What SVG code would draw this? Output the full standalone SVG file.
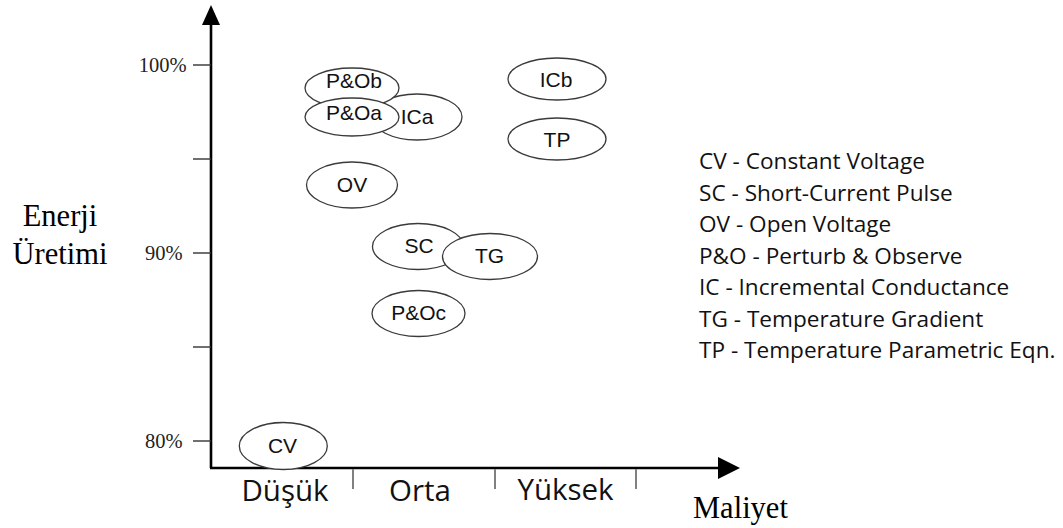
<svg xmlns="http://www.w3.org/2000/svg" width="1063" height="528" viewBox="0 0 1063 528">
  <style>
    .node ellipse { fill: #ffffff; stroke: #3a3a3a; stroke-width: 1.3; }
    .node text { font-family: "Liberation Sans", Arial, sans-serif; font-size: 21px; fill: #111; text-anchor: middle; }
    .axis { stroke: #000; stroke-width: 2.6; fill: none; }
    .ytick { stroke: #333; stroke-width: 1.4; }
    .xtick { stroke: #808080; stroke-width: 2; }
    .pct { font-family: "Liberation Serif", "Times New Roman", serif; font-size: 20.5px; fill: #222; text-anchor: end; }
    .title { font-family: "Liberation Serif", "Times New Roman", serif; font-size: 30.5px; fill: #000; }
    .cat { font-family: "Open Sans", Lato, sans-serif; font-size: 29.5px; fill: #111; text-anchor: middle; }
    .legend { font-family: "Open Sans", Lato, sans-serif; font-size: 22.6px; fill: #111; }
  </style>

  <!-- axes -->
  <g id="axes">
    <line class="axis" x1="211" y1="468" x2="211" y2="22"/>
    <polygon points="211,5 202,25 220,25" fill="#000"/>
    <line class="axis" x1="210" y1="468" x2="722" y2="468"/>
    <polygon points="740,468 718,457 718,479" fill="#000"/>
    <line class="ytick" x1="193" y1="65" x2="211" y2="65"/>
    <line class="ytick" x1="193" y1="159" x2="211" y2="159"/>
    <line class="ytick" x1="193" y1="253" x2="211" y2="253"/>
    <line class="ytick" x1="193" y1="347" x2="211" y2="347"/>
    <line class="ytick" x1="193" y1="441" x2="211" y2="441"/>
    <line class="xtick" x1="353" y1="469" x2="353" y2="489"/>
    <line class="xtick" x1="495" y1="469" x2="495" y2="489"/>
    <line class="xtick" x1="636" y1="469" x2="636" y2="489"/>
    <text class="pct" x="186.5" y="72">100%</text>
    <text class="pct" x="182.5" y="260">90%</text>
    <text class="pct" x="182.5" y="448">80%</text>
    <text class="title" x="60" y="226" text-anchor="middle">Enerji</text>
    <text class="title" x="60" y="264" text-anchor="middle">Üretimi</text>
    <text class="title" x="693" y="518">Maliyet</text>
    <text class="cat" x="285" y="501">Düşük</text>
    <text class="cat" x="420" y="501">Orta</text>
    <text class="cat" x="565.5" y="500">Yüksek</text>
  </g>

  <!-- method bubbles -->
  <g id="ICa" class="node">
    <ellipse cx="417" cy="117" rx="45" ry="23"/>
    <text x="417" y="124">ICa</text>
  </g>
  <g id="PandOb" class="node">
    <ellipse cx="352" cy="88" rx="47" ry="20"/>
    <text x="354" y="87.5">P&amp;Ob</text>
  </g>
  <g id="PandOa" class="node">
    <ellipse cx="352" cy="117" rx="47" ry="19"/>
    <text x="354" y="120">P&amp;Oa</text>
  </g>
  <g id="ICb" class="node">
    <ellipse cx="557" cy="79" rx="49" ry="21"/>
    <text x="556" y="87">ICb</text>
  </g>
  <g id="TP" class="node">
    <ellipse cx="557" cy="139" rx="49" ry="21"/>
    <text x="557" y="147">TP</text>
  </g>
  <g id="OV" class="node">
    <ellipse cx="352" cy="185" rx="45.5" ry="23"/>
    <text x="352" y="192">OV</text>
  </g>
  <g id="SC" class="node">
    <ellipse cx="418" cy="246.5" rx="45.5" ry="23"/>
    <text x="419" y="252.5">SC</text>
  </g>
  <g id="TG" class="node">
    <ellipse cx="490" cy="256.5" rx="47.5" ry="23"/>
    <text x="489.5" y="263">TG</text>
  </g>
  <g id="PandOc" class="node">
    <ellipse cx="418.5" cy="313.5" rx="46.5" ry="23"/>
    <text x="418.7" y="320">P&amp;Oc</text>
  </g>
  <g id="CV" class="node">
    <ellipse cx="283.3" cy="446" rx="44" ry="23.5"/>
    <text x="282.5" y="453">CV</text>
  </g>

  <!-- legend -->
  <g id="legend" class="legend">
    <text x="699" y="169">CV - Constant Voltage</text>
    <text x="699" y="200.5">SC - Short-Current Pulse</text>
    <text x="699" y="232">OV - Open Voltage</text>
    <text x="699" y="263.7">P&amp;O - Perturb &amp; Observe</text>
    <text x="699" y="295.2">IC - Incremental Conductance</text>
    <text x="699" y="326.8">TG - Temperature Gradient</text>
    <text x="699" y="358.3">TP - Temperature Parametric Eqn.</text>
  </g>
</svg>
